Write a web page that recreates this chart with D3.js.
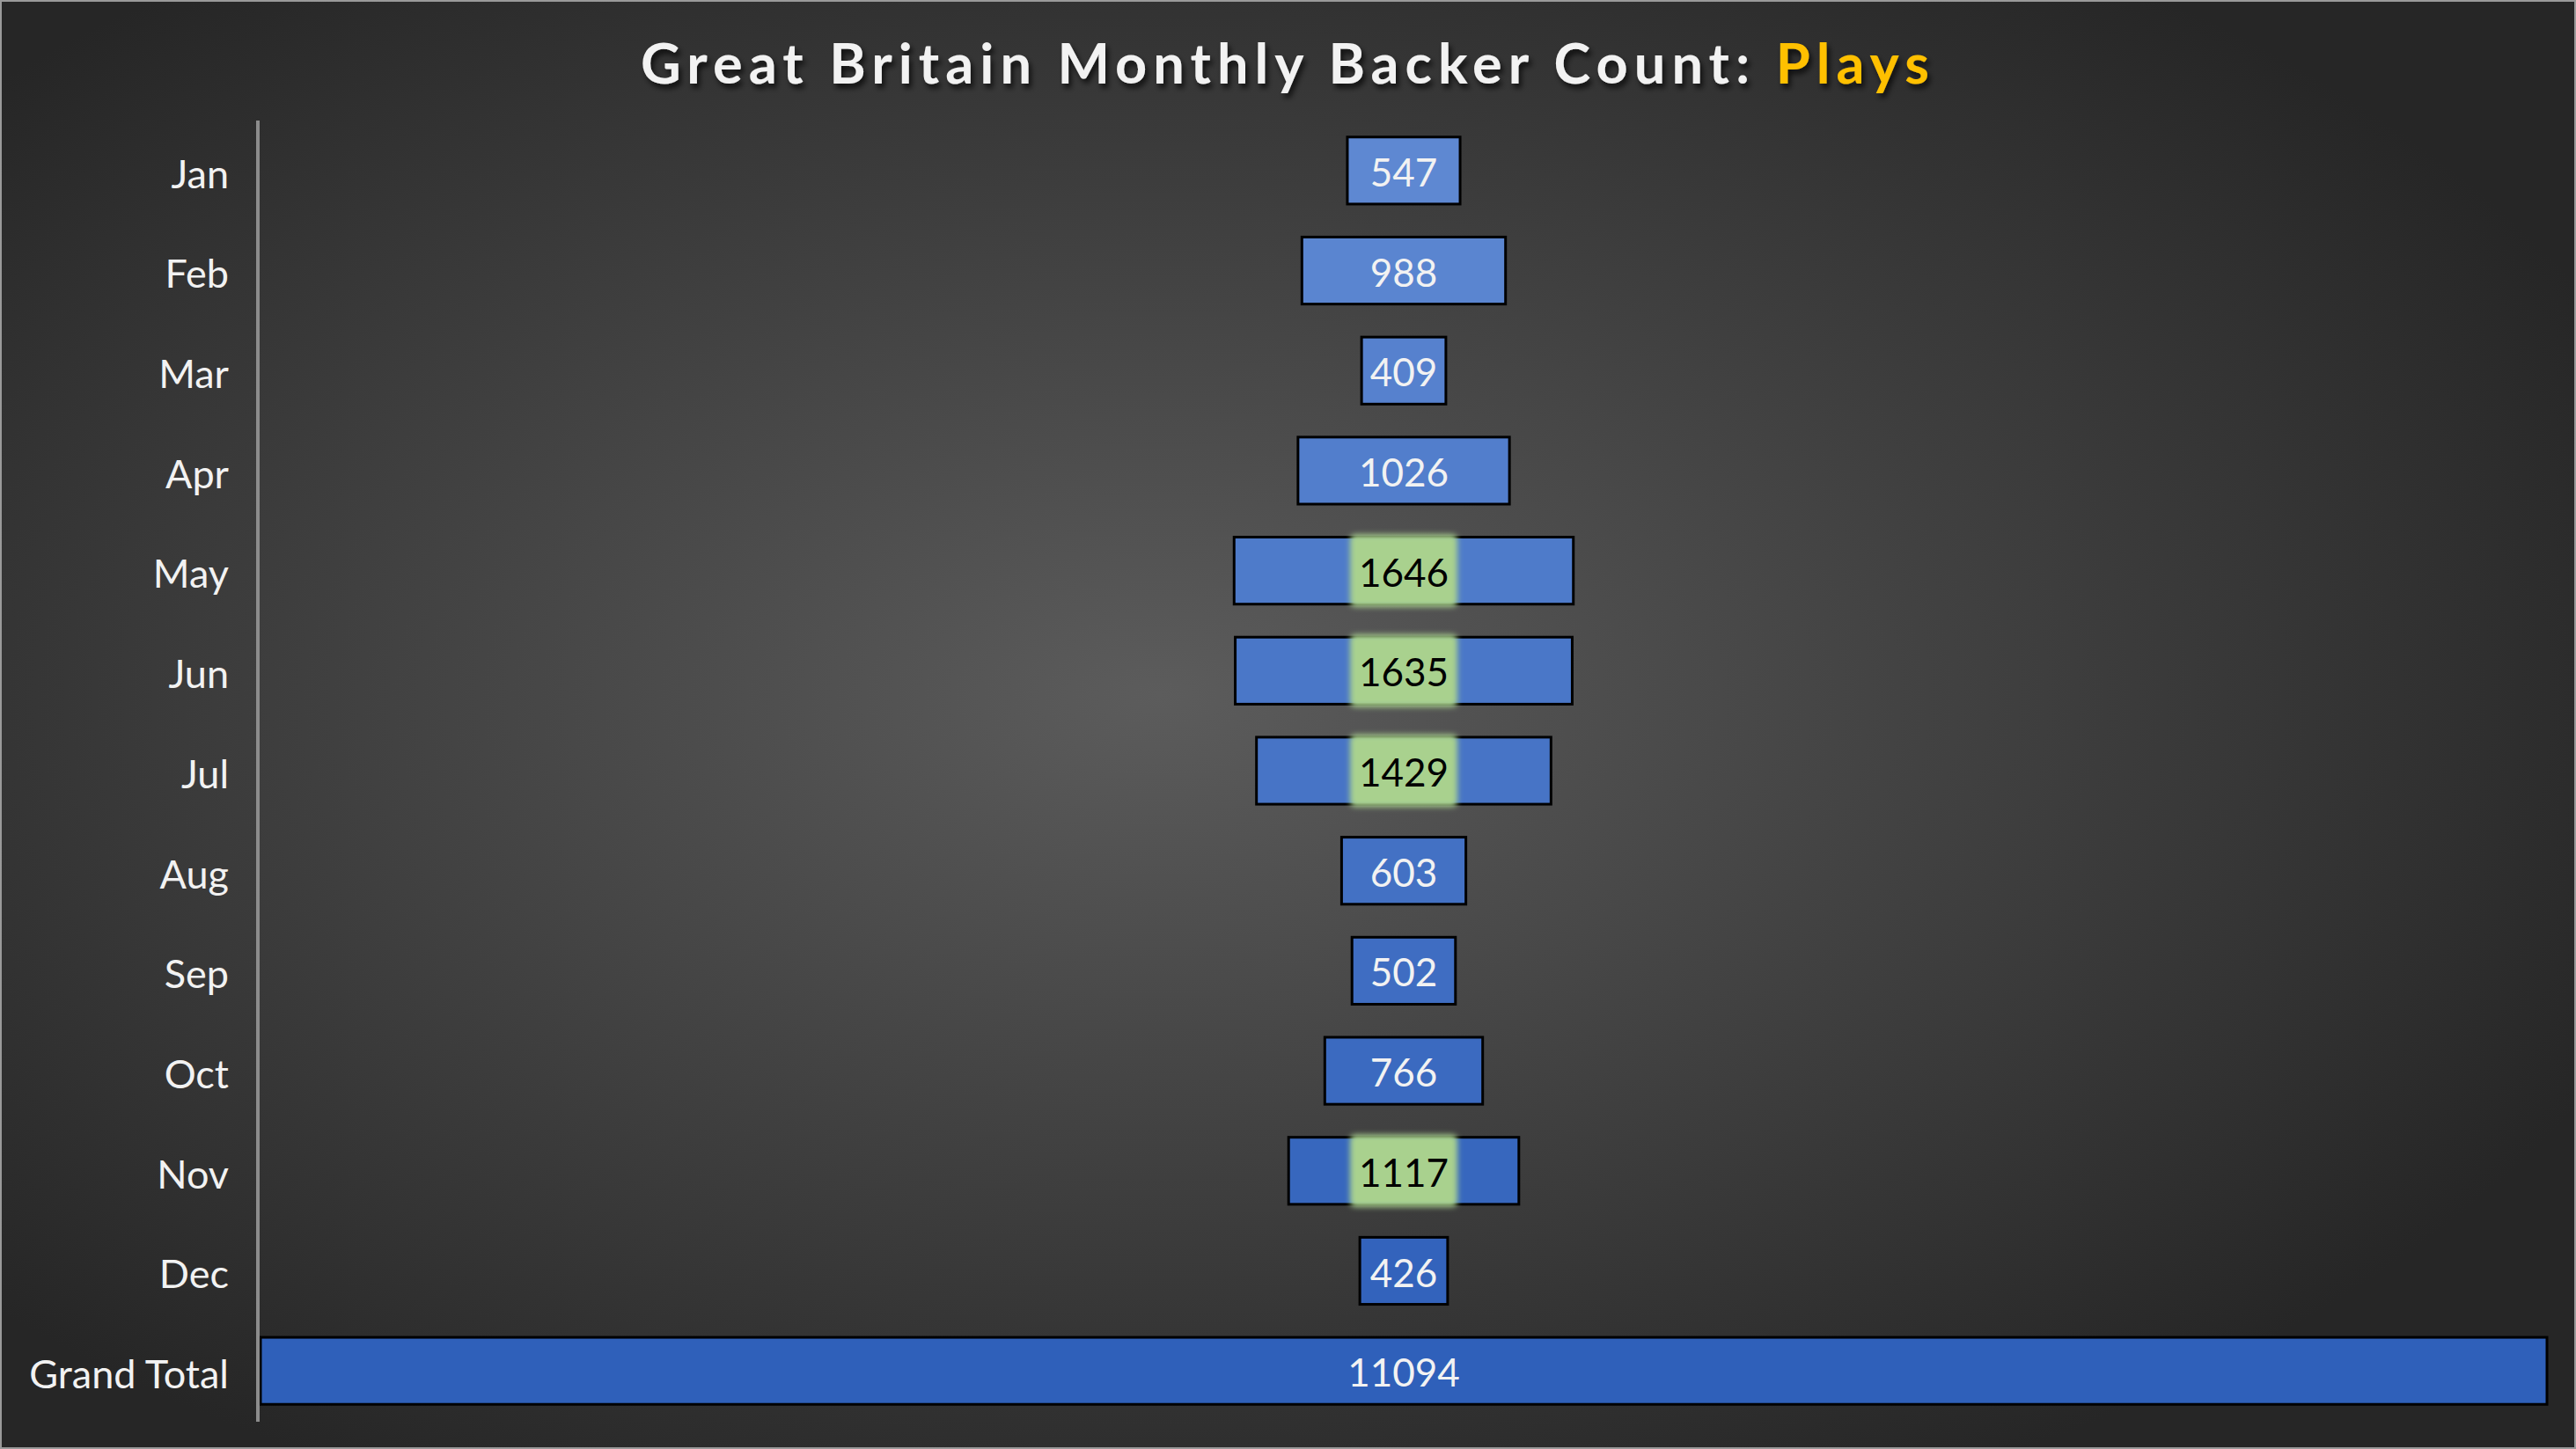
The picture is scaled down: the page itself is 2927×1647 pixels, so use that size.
<!DOCTYPE html>
<html>
<head>
<meta charset="utf-8">
<script src="https://cdn.jsdelivr.net/npm/d3@7"></script>
<style>
  body { margin: 0; background: #262626; }
  svg { display: block; }
</style>
</head>
<body>
<div id="chart"></div>
<script>
// ----------------------------------------------- //
// Data
var categories = ["Jan", "Feb", "Mar", "Apr", "May", "Jun", "Jul", "Aug", "Sep", "Oct", "Nov", "Dec", "Grand Total"];
var backers = [547, 988, 409, 1026, 1646, 1635, 1429, 603, 502, 766, 1117, 426, 11094];
var titleParts = ["Great Britain Monthly Backer Count: ", "Plays"];
var highlightAbove = 1100; // labels over this get the green box

// ----------------------------------------------- //
// Sizes
var svgWidth = 2927;
var svgHeight = 1647;

var margin = { top: 137, right: 32, bottom: 32, left: 295 };
var chartWidth = svgWidth - margin.left - margin.right;
var chartHeight = svgHeight - margin.top - margin.bottom;

var svg = d3.select("#chart")
    .append("svg")
    .attr("width", svgWidth)
    .attr("height", svgHeight);

var defs = svg.append("defs");

// background: dark radial gradient
var bg = defs.append("radialGradient")
    .attr("id", "bg")
    .attr("cx", "45%").attr("cy", "48%").attr("r", "62%");
bg.append("stop").attr("offset", "0%").attr("stop-color", "#5c5c5c");
bg.append("stop").attr("offset", "100%").attr("stop-color", "#262626");

var shadow = defs.append("filter").attr("id", "shadow")
    .attr("x", "-5%").attr("y", "-30%").attr("width", "110%").attr("height", "160%");
shadow.append("feDropShadow")
    .attr("dx", 3).attr("dy", 5).attr("stdDeviation", 3)
    .attr("flood-color", "#000").attr("flood-opacity", 0.7);

var glow = defs.append("filter").attr("id", "glow")
    .attr("x", "-30%").attr("y", "-30%").attr("width", "160%").attr("height", "160%");
glow.append("feGaussianBlur").attr("stdDeviation", 3);

svg.append("rect")
    .attr("x", 1).attr("y", 1)
    .attr("width", svgWidth - 2).attr("height", svgHeight - 2)
    .attr("fill", "url(#bg)")
    .attr("stroke", "#9a9a9a")
    .attr("stroke-width", 2);

// ----------------------------------------------- //
// Title
var title = svg.append("text")
    .attr("x", svgWidth / 2)
    .attr("y", 95)
    .attr("text-anchor", "middle")
    .attr("font-family", "Lato")
    .attr("font-weight", "bold")
    .attr("font-size", 63)
    .attr("fill", "#f2f2f2")
    .attr("filter", "url(#shadow)");
title.append("tspan").text(titleParts[0]);
title.append("tspan").attr("fill", "#ffc000").text(titleParts[1]);

// stretch the letter spacing until the title is as wide as the original
var nChars = (titleParts[0] + titleParts[1]).length;
var rawWidth = title.node().getComputedTextLength();
title.attr("letter-spacing", Math.max(0, (1471 - rawWidth) / nChars));

// ----------------------------------------------- //
// Scales
var yScale = d3.scaleBand()
    .domain(categories)
    .range([0, chartHeight])
    .paddingInner(0.33)
    .paddingOuter(0.165);

var xScale = d3.scaleLinear()
    .domain([0, d3.max(backers)])
    .range([0, chartWidth - 2]);

var colorScale = d3.scaleLinear()
    .domain([0, categories.length - 1])
    .range(["#5e88d2", "#2f60ba"]);

var chartGroup = svg.append("g")
    .attr("transform", `translate(${margin.left}, ${margin.top})`);

var rows = categories.map(function(c, i) { return { cat: c, value: backers[i], i: i }; });
var centerX = chartWidth / 2;

// bars, centred like a funnel
chartGroup.selectAll("rect.bar")
    .data(rows)
    .enter()
    .append("rect")
    .classed("bar", true)
    .attr("x", d => centerX - xScale(d.value) / 2)
    .attr("y", d => yScale(d.cat))
    .attr("width", d => xScale(d.value))
    .attr("height", yScale.bandwidth())
    .attr("fill", d => colorScale(d.i))
    .attr("stroke", "#000")
    .attr("stroke-width", 3);

// green glow boxes behind the big values
var hot = rows.filter(d => d.cat !== "Grand Total" && d.value > highlightAbove);
chartGroup.selectAll("rect.hot")
    .data(hot)
    .enter()
    .append("rect")
    .classed("hot", true)
    .attr("x", centerX - 61)
    .attr("y", d => yScale(d.cat) - 3)
    .attr("width", 122)
    .attr("height", yScale.bandwidth() + 6)
    .attr("rx", 6)
    .attr("fill", "#a9d18e")
    .attr("filter", "url(#glow)");

// value labels
chartGroup.selectAll("text.value")
    .data(rows)
    .enter()
    .append("text")
    .classed("value", true)
    .attr("x", centerX)
    .attr("y", d => yScale(d.cat) + yScale.bandwidth() / 2)
    .attr("dy", "0.41em")
    .attr("text-anchor", "middle")
    .attr("font-family", "Lato")
    .attr("font-size", 44)
    .attr("fill", d => (d.cat !== "Grand Total" && d.value > highlightAbove) ? "#000" : "#f2f2f2")
    .text(d => d.value);

// ----------------------------------------------- //
// Y axis (labels only, plus a grey line)
var leftAxis = d3.axisLeft(yScale).tickSize(0).tickPadding(33);
var yAxis = chartGroup.append("g")
    .attr("transform", "translate(-2, 0)")
    .call(leftAxis);
yAxis.select(".domain").remove();
yAxis.selectAll("text")
    .attr("font-family", "Lato")
    .attr("font-size", 45)
    .attr("dy", "0.44em")
    .attr("fill", "#f2f2f2");

chartGroup.append("line")
    .attr("x1", -2).attr("x2", -2)
    .attr("y1", 0).attr("y2", chartHeight + 1)
    .attr("stroke", "#8c8c8c")
    .attr("stroke-width", 4);
</script>
</body>
</html>
